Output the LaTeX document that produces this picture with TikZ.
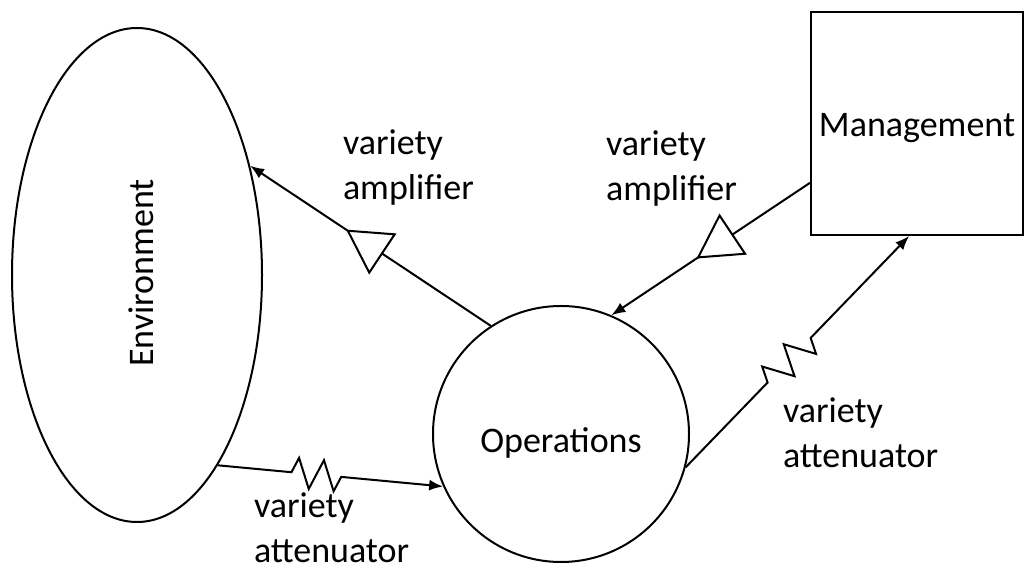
\documentclass[tikz,border=0pt]{standalone}
\usepackage{fontspec}
\setmainfont{Carlito}
\usetikzlibrary{shapes.geometric,arrows.meta,decorations.pathmorphing,decorations.markings}
\begin{document}
\begin{tikzpicture}[x=1pt,y=1pt,line width=2pt,
  every node/.style={font=\fontsize{36}{45}\selectfont},
  conn/.style={-{Latex[length=14pt,width=11pt]}},
  amp/.style={postaction={decorate},
    decoration={markings, mark=at position #1 with
      {\draw[-,fill=white,line width=2pt] (0pt,0pt) -- (-41pt,23pt) -- (-41pt,-23pt) -- cycle;}}},
  att/.style args={#1/#2/#3}{decorate,
    decoration={zigzag, amplitude=15pt, segment length=#2, pre length=#1, post length=#3}},
  lbl/.style={anchor=base west, align=left, inner sep=0pt}
]
\useasboundingbox (0,0) rectangle (1026,573);
\fill[white] (0,0) rectangle (1026,573);

% nodes
\node[ellipse, draw, minimum width=250pt, minimum height=494pt, inner sep=0pt] (env) at (137,298) {};
\node[rotate=90, anchor=base, inner sep=0pt] (envtext) at (153,300) {Environment};
\node[circle, draw, minimum size=256pt, inner sep=0pt, text height=38pt, text depth=0pt] (ops) at (561,139) {Operations};
\node[rectangle, draw, minimum width=212pt, minimum height=223pt, inner sep=0pt, text height=27pt, text depth=0pt] (mgmt) at (917,449.5) {Management};

% connectors
\draw[conn, amp=0.594] (ops.123.5) -- (env.44);
\draw[conn, amp=0.563] (mgmt.209) -- (ops.67);
\draw[conn, att=74pt/25pt/102pt] (env.293.4) -- (ops.204);
\draw[conn, att=118pt/31pt/140pt] (ops.345.3) -- (mgmt.266);

% labels (anchor = baseline of the last line)
\node[lbl] (l1) at (342,373) {variety\\amplifier};
\node[lbl] (l2) at (605,372) {variety\\amplifier};
\node[lbl] (l3) at (253,10) {variety\\attenuator};
\node[lbl] (l4) at (782,105) {variety\\attenuator};
\end{tikzpicture}
\end{document}
